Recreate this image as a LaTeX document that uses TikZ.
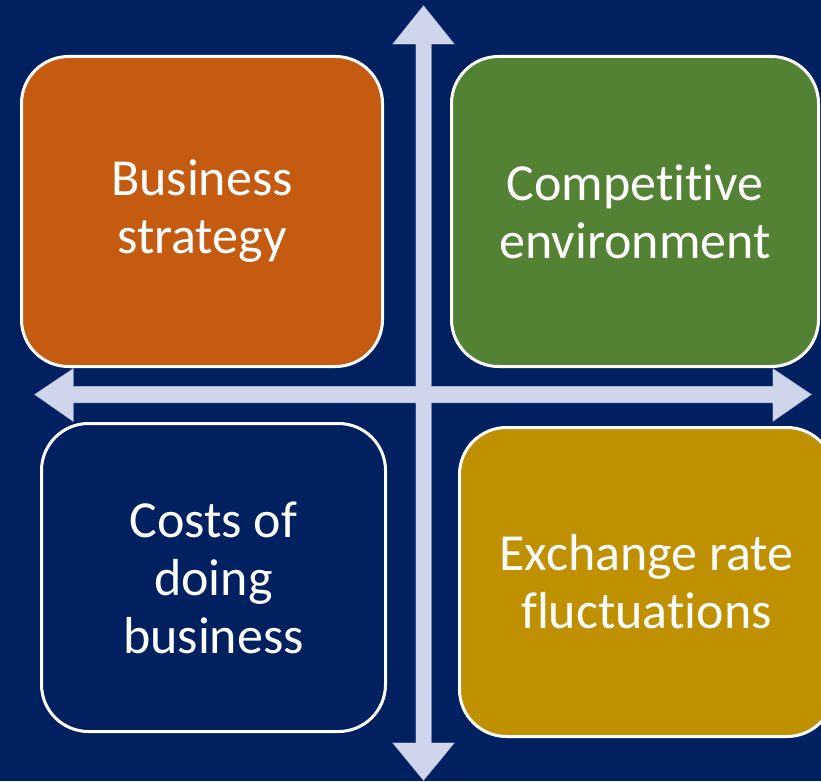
\documentclass[tikz,border=0pt]{standalone}
\usepackage{fontspec}
\setmainfont{Carlito}[Ligatures=NoCommon]
\definecolor{bgnavy}{HTML}{002060}
\definecolor{boxorange}{HTML}{C55A11}
\definecolor{boxgreen}{HTML}{548235}
\definecolor{boxgold}{HTML}{BF9000}
\definecolor{arrowfill}{HTML}{CFD5EA}
\definecolor{arrowedge}{HTML}{8E9CC8}
\tikzset{
  quadbox/.style={draw=white, line width=3pt, rounded corners=47pt},
  quadtext/.style={text=white, align=center, font=\fontsize{52}{58}\selectfont},
  arrowshape/.style={fill=arrowfill, draw=arrowedge, line width=1pt},
  arrowfillonly/.style={fill=arrowfill}
}
\begin{document}
\begin{tikzpicture}[x=1pt,y=-1pt]
\fill[bgnavy] (0,0) rectangle (821,781);
\useasboundingbox (0,0) rectangle (821,781);
\clip (0,0) rectangle (821,781);
% arrows: outline pass
\path[arrowshape] (416,44) -- (393,44) -- (423.5,6) -- (454,44) -- (431,44) -- (431,743) -- (454,743) -- (423.5,780) -- (393,743) -- (416,743) -- cycle;
\path[arrowshape] (73,386.5) -- (73,369) -- (35,394.5) -- (73,421) -- (73,402.5) -- (773,402.5) -- (773,421) -- (811,394.5) -- (773,369) -- (773,386.5) -- cycle;
% arrows: fill pass (union)
\path[arrowfillonly] (416,44) -- (393,44) -- (423.5,6) -- (454,44) -- (431,44) -- (431,743) -- (454,743) -- (423.5,780) -- (393,743) -- (416,743) -- cycle;
\path[arrowfillonly] (73,386.5) -- (73,369) -- (35,394.5) -- (73,421) -- (73,402.5) -- (773,402.5) -- (773,421) -- (811,394.5) -- (773,369) -- (773,386.5) -- cycle;
% boxes
\draw[quadbox, fill=boxorange] (21.5,56.5) rectangle (382.5,366.5);
\draw[quadbox, fill=boxgreen] (451.5,56.5) rectangle (818.5,366.5);
\draw[quadbox, fill=bgnavy] (41.5,423.5) rectangle (385.5,731.5);
\draw[quadbox, fill=boxgold] (459.5,427.5) rectangle (834,736.5);
% texts
\node[quadtext] (strategy) at (202,211.5) {Business\\strategy};
\node[quadtext] (competitive) at (635,211.5) {Competitive\\environment};
\node[quadtext] (costs) at (213.5,577.5) {Costs of\\doing\\business};
\node[quadtext] (exchange) at (646.5,582) {Exchange rate\\fluctuations};
\end{tikzpicture}
\end{document}
